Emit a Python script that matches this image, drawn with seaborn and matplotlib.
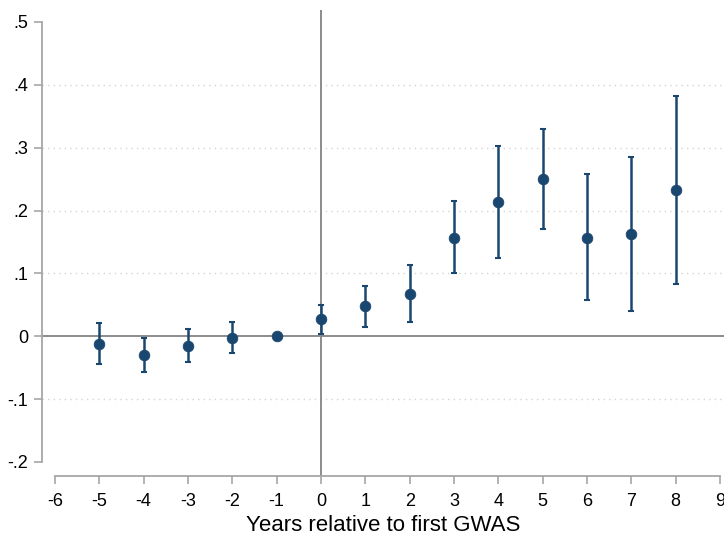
import matplotlib
matplotlib.use("Agg")
import matplotlib.pyplot as plt
import seaborn as sns
import pandas as pd

# Event-study estimates with 95% confidence intervals
years = [-5, -4, -3, -2, -1, 0, 1, 2, 3, 4, 5, 6, 7, 8]
coef = [-0.012, -0.030, -0.015, -0.002, 0.0, 0.027, 0.048, 0.068, 0.157, 0.214, 0.250, 0.157, 0.163, 0.232]
ci_low = [-0.044, -0.057, -0.041, -0.026, 0.0, 0.004, 0.014, 0.022, 0.101, 0.125, 0.171, 0.058, 0.041, 0.083]
ci_high = [0.021, -0.003, 0.012, 0.023, 0.0, 0.050, 0.080, 0.113, 0.215, 0.303, 0.330, 0.258, 0.286, 0.382]

x_ticks = list(range(-6, 10))
y_ticks = [-0.2, -0.1, 0.0, 0.1, 0.2, 0.3, 0.4, 0.5]
y_tick_labels = ["-.2", "-.1", "0", ".1", ".2", ".3", ".4", ".5"]

df = pd.DataFrame({"year": years, "coef": coef, "lo": ci_low, "hi": ci_high})

sns.set_theme(style="white")
plt.rcParams["font.family"] = ["Liberation Sans", "DejaVu Sans"]

navy = "#1a476f"
axis_gray = "#a6a6a6"

fig = plt.figure(figsize=(7.24, 5.36), dpi=100)
ax = fig.add_axes([42 / 724, 60 / 536, 682 / 724, 466 / 536])

# dotted horizontal grid
for yv in [-0.1, 0.1, 0.2, 0.3, 0.4]:
    ax.axhline(yv, color="#d4d4d4", lw=1.0, ls=(0, (1, 3)), zorder=0)

# reference lines
ax.axhline(0, color="#8c8c8c", lw=1.4, zorder=1)
ax.axvline(0, color="#8c8c8c", lw=1.4, zorder=1)

# confidence intervals (skip the omitted base year)
ci = df[df["hi"] != df["lo"]]
ax.errorbar(ci["year"], ci["coef"],
            yerr=[ci["coef"] - ci["lo"], ci["hi"] - ci["coef"]],
            fmt="none", ecolor=navy, elinewidth=1.8, capsize=2.5, capthick=1.5, zorder=2)

sns.scatterplot(data=df, x="year", y="coef", ax=ax, color=navy, s=60,
                edgecolor=navy, linewidth=0.5, zorder=3, legend=False)

xpx = 665 / 15
ypx = 440 / 0.7
ax.set_xlim(-6 - 13 / xpx, 9 + 4 / xpx)
ax.set_ylim(-0.2 - 14 / ypx, 0.5 + 12 / ypx)

ax.set_xticks(x_ticks)
ax.set_xticklabels([str(t) for t in x_ticks])
ax.set_yticks(y_ticks)
ax.set_yticklabels(y_tick_labels)

for side in ["top", "right"]:
    ax.spines[side].set_visible(False)
ax.spines["left"].set_bounds(-0.2, 0.5)
ax.spines["bottom"].set_bounds(-6, 9)
for side in ["left", "bottom"]:
    ax.spines[side].set_color(axis_gray)
    ax.spines[side].set_linewidth(1.3)

ax.tick_params(axis="both", which="major", bottom=True, left=True, direction="out",
               length=6, width=1.2, color=axis_gray,
               labelsize=13, labelcolor="black", pad=4)
ax.tick_params(axis="x", pad=6)

ax.set_xlabel("Years relative to first GWAS", fontsize=16, color="black", labelpad=4)
ax.set_ylabel("")
ax.grid(False)

fig.savefig("out.png", dpi=100, facecolor="white")
